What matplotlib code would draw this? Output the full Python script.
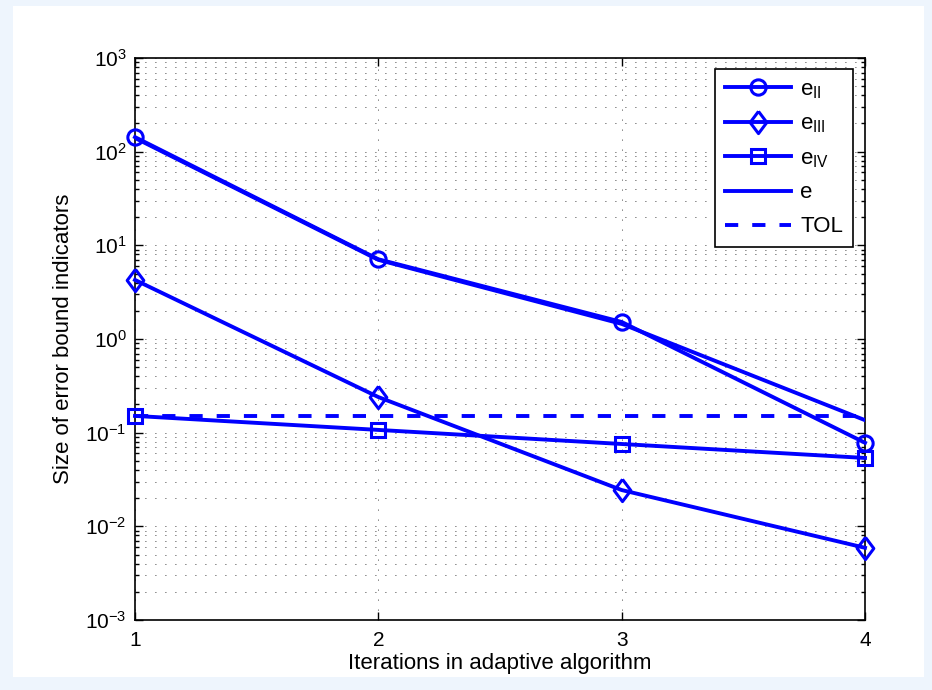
import matplotlib
matplotlib.use('Agg')
import matplotlib.pyplot as plt
from matplotlib.patches import Rectangle
from matplotlib.ticker import NullFormatter, FuncFormatter
import numpy as np

plt.rcParams['font.family'] = ['Liberation Sans', 'DejaVu Sans']
plt.rcParams['mathtext.fontset'] = 'custom'
plt.rcParams['mathtext.rm'] = 'Liberation Sans'
plt.rcParams['mathtext.it'] = 'Liberation Sans'

# values
iters = [1, 2, 3, 4]
e_II = [143, 7.1, 1.52, 0.078]
e_III = [4.27, 0.24, 0.0244, 0.0059]
e_IV = [0.151, 0.107, 0.0757, 0.0537]
e_tot = [140, 7.0, 1.45, 0.136]
tol = [0.15, 0.15, 0.15, 0.15]
decades = [-3, -2, -1, 0, 1, 2, 3]

W, H = 932, 690
fig = plt.figure(figsize=(W / 100, H / 100), dpi=100)
fig.patch.set_facecolor('#eef5fd')
# white figure panel inside the light blue frame
fig.patches.append(Rectangle((13 / W, 1 - 677 / H), (924 - 13) / W, (677 - 6) / H,
                             transform=fig.transFigure, facecolor='white',
                             edgecolor='none', zorder=-5))

ax = fig.add_axes([135 / W, 1 - 620 / H, (865 - 135) / W, (620 - 58) / H])
ax.set_zorder(2)
ax.set_yscale('log')
ax.set_xlim(1, 4)
ax.set_ylim(1e-3, 1e3)

blue = (0, 0, 1)
lw = 2.8
mew = 2.2
diamond = [(0, 1), (0.75, 0), (0, -1), (-0.75, 0), (0, 1)]
ax.plot(iters, e_II, '-o', color=blue, lw=lw, ms=11, mfc='none', mew=mew,
        label='$\\mathregular{e_{II}}$', zorder=3, clip_on=False)
ax.plot(iters, e_III, '-', marker=diamond, color=blue, lw=lw, ms=16, mfc='none', mew=mew,
        label='$\\mathregular{e_{III}}$', zorder=3, clip_on=False)
ax.plot(iters, e_IV, '-s', color=blue, lw=lw, ms=10.5, mfc='none', mew=mew,
        label='$\\mathregular{e_{IV}}$', zorder=3, clip_on=False)
ax.plot(iters, e_tot, '-', color=blue, lw=lw, label='e', zorder=3)
ax.plot(iters, tol, '--', color=blue, lw=lw, dashes=(3.4, 3.6), label='TOL', zorder=3)

ax.set_xticks(iters)
ax.set_yticks([10.0 ** d for d in decades])
ax.set_yticks([m * 10.0 ** d for d in decades[:-1] for m in range(2, 10)], minor=True)
ax.yaxis.set_minor_formatter(NullFormatter())
ax.yaxis.set_major_formatter(FuncFormatter(
    lambda v, p: '$\\mathregular{10^{%d}}$' % int(round(np.log10(v)))))

dots = (0, (1, 11))
ax.grid(True, which='major', axis='both', color='black', ls=dots, lw=0.6)
ax.grid(True, which='minor', axis='y', color='black', ls=dots, lw=0.6)

ax.tick_params(which='both', direction='in', top=True, right=True, labelsize=15, width=1)
ax.tick_params(which='major', length=6)
ax.tick_params(which='minor', length=3)
ax.tick_params(axis='x', pad=8)
ax.tick_params(axis='y', pad=6)
for s in ax.spines.values():
    s.set_linewidth(1.2)

ax.set_xlabel('Iterations in adaptive algorithm', fontsize=16)
ax.set_ylabel('Size of error bound indicators', fontsize=16)
ax.xaxis.set_label_coords(0.5, -0.058)
ax.yaxis.set_label_coords(-0.084, 0.5)

leg = ax.legend(loc='upper right', fontsize=16, handlelength=3.0, borderpad=0.45,
                labelspacing=0.58, handletextpad=0.4, fancybox=False, framealpha=1,
                edgecolor='black', borderaxespad=0,
                bbox_to_anchor=((853 - 135) / 730, 1 - 11 / 562))
leg.get_frame().set_linewidth(1.2)

fig.savefig('out.png', dpi=100, facecolor=fig.get_facecolor())
